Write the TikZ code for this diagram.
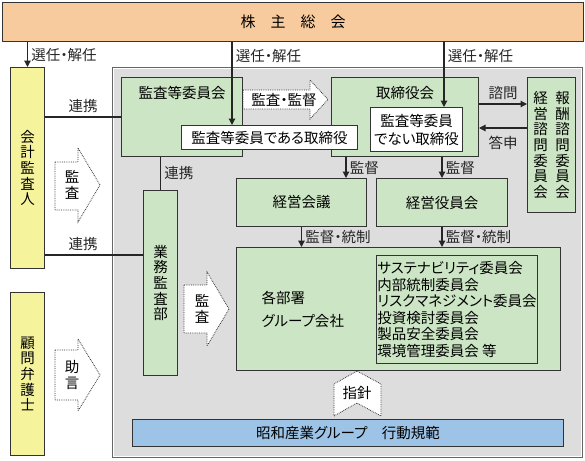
\documentclass[tikz,border=0pt]{standalone}
\usepackage{fontspec}
\setmainfont[RawFeature=+palt]{Noto Sans CJK JP}
\usetikzlibrary{arrows.meta, positioning, calc}
\definecolor{meetingorange}{RGB}{248,203,158}
\definecolor{auditoryellow}{RGB}{246,243,157}
\definecolor{boardgreen}{RGB}{204,229,196}
\definecolor{groupgray}{RGB}{221,221,221}
\definecolor{codeblue}{RGB}{157,195,230}
\newcommand{\tatefont}{\fontsize{14.5}{15.6}\selectfont}

\begin{document}
\begin{tikzpicture}[
        x=1pt, y=-1pt,
        font=\fontsize{14.5}{16}\selectfont,
        box/.style={rectangle, draw=black!80, line width=1pt, anchor=north west, inner sep=0pt, align=center},
        greenbox/.style={box, fill=boardgreen},
        yellowbox/.style={box, fill=auditoryellow, font=\tatefont},
        whitebox/.style={box, fill=white, font=\fontsize{14.5}{18}\selectfont},
        arr/.style={-{Triangle[length=6.5pt, width=6.5pt]}, line width=1.2pt, black!85},
        link/.style={line width=1.2pt, black!85},
        hint/.style={draw=black!80, densely dotted, line width=0.8pt, fill=white}
    ]
    \useasboundingbox (0,0) rectangle (585,460);

    % group frame
    \node[box, draw=black!60, fill=groupgray, minimum width=470pt, minimum height=390pt] (group) at (112,67) {};
    \draw[white, line width=0.8pt] ($(group.north west)+(1.6,1.6)$) rectangle ($(group.south east)+(-1.6,-1.6)$);

    \node[box, fill=meetingorange, minimum width=581pt, minimum height=39pt, font=\fontsize{15}{18}\selectfont] (soukai) at (2,2) {株　主　総　会};

    % outside
    \node[yellowbox, minimum width=34pt, minimum height=201pt] (kaikei) at (10,67) {会\\計\\監\\査\\人};
    \node[yellowbox, minimum width=34pt, minimum height=163pt] (bengo) at (10,292) {顧\\問\\弁\\護\\士};

    % board
    \node[greenbox, minimum width=121pt, minimum height=79pt] (kansa) at (121,77) {};
    \node[greenbox, minimum width=147pt, minimum height=79pt] (torishimari) at (331,77) {};
    \node (kansatitle) at ($(kansa.north)+(0,16)$) {監査等委員会};
    \node (torititle) at ($(torishimari.north)+(0,16)$) {取締役会};
    \node[whitebox, minimum width=176pt, minimum height=24pt] (kdir) at (181,125) {監査等委員である取締役};
    \node[whitebox, minimum width=92pt, minimum height=44pt] (ndir) at (370,107) {監査等委員\\でない取締役};

    \node[greenbox, minimum width=48pt, minimum height=135pt] (shimon) at (527,77) {};
    \node[font=\tatefont, align=center] (houshu) at ($(shimon.center)+(11,0)$) {報\\酬\\諮\\問\\委\\員\\会};
    \node[font=\tatefont, align=center] (keieishimon) at ($(shimon.center)+(-11,0)$) {経\\営\\諮\\問\\委\\員\\会};

    % execution
    \node[greenbox, minimum width=34pt, minimum height=185pt, font=\tatefont] (gyomu) at (143,190) {業\\務\\監\\査\\部};
    \node[greenbox, minimum width=130pt, minimum height=48pt] (keiei) at (236,178) {経営会議};
    \node[greenbox, minimum width=131pt, minimum height=48pt] (yakuin) at (376,178) {経営役員会};
    \node[greenbox, minimum width=324pt, minimum height=123pt] (kakubu) at (236,247) {};
    \node[anchor=west, align=left, font=\fontsize{14.5}{23}\selectfont] (kakubutext) at (258,309) {各部署\\グループ会社};
    \node[greenbox, minimum width=161pt, minimum height=108pt, align=left, font=\fontsize{14.5}{16.6}\selectfont] (iinkai) at (376,255) {サステナビリティ委員会\\内部統制委員会\\リスクマネジメント委員会\\投資検討委員会\\製品安全委員会\\環境管理委員会 等};
    \node[box, fill=codeblue, minimum width=431pt, minimum height=27pt] (kodo) at (132,419) {昭和産業グループ　行動規範};

    % dotted arrows
    \draw[hint] (243,90) -- (310,90) -- (310,80) -- (328,99.5) -- (310,119) -- (310,109) -- (243,109) -- cycle;
    \node (kantokuhint) at (284,99.5) {監査・監督};
    \draw[hint] (55,162) -- (78,162) -- (78,148) -- (100,185) -- (78,222) -- (78,210) -- (55,210) -- cycle;
    \node[font=\tatefont, align=center] (kansahint) at (72,185) {監\\査};
    \draw[hint] (55,350) -- (78,350) -- (78,339) -- (100,375) -- (78,411) -- (78,400) -- (55,400) -- cycle;
    \node[font=\tatefont, align=center] (jogenhint) at (72,375) {助\\言};
    \draw[hint] (184,285) -- (207,285) -- (207,272) -- (229,309) -- (207,346) -- (207,333) -- (184,333) -- cycle;
    \node[font=\tatefont, align=center] (naibuhint) at (202,309) {監\\査};
    \draw[hint] (334,384) -- (357,371) -- (381,384) -- (381,416) -- (357,403) -- (334,416) -- cycle;
    \node (shishinhint) at (357,393) {指針};

    % connectors
    \draw[arr] (soukai.south -| kaikei.north) -- node[right] {選任・解任} (kaikei.north);
    \coordinate (kdirin) at ($(kdir.north west)+(51,0)$);
    \draw[arr] (soukai.south -| kdirin) -- node[pos=0.17, right] {選任・解任} (kdirin);
    \coordinate (ndirin) at ($(ndir.north west)+(74,0)$);
    \draw[arr] (soukai.south -| ndirin) -- node[pos=0.21, right] {選任・解任} (ndirin);

    \coordinate (renkeiA) at ($(kaikei.north east)+(0,50)$);
    \draw[link] (renkeiA) -- node[above] {連携} (renkeiA -| kansa.west);
    \coordinate (renkeiB) at ($(kaikei.north east)+(0,188)$);
    \draw[link] (renkeiB) -- node[pos=0.39, above] {連携} (renkeiB -| gyomu.west);
    \draw[link] (gyomu.north |- kansa.south) -- node[right] {連携} (gyomu.north);

    \coordinate (shimonout) at ($(torishimari.north east)+(0,27)$);
    \draw[arr] (shimonout) -- node[above] {諮問} (shimonout -| shimon.west);
    \coordinate (toshinin) at ($(torishimari.north east)+(0,51)$);
    \draw[arr] (toshinin -| shimon.west) -- node[below=4pt] {答申} (toshinin);

    \coordinate (kantokuA) at ($(keiei.north west)+(110,0)$);
    \draw[arr] (kantokuA |- torishimari.south) -- node[right] {監督} (kantokuA);
    \draw[arr] (yakuin.north |- torishimari.south) -- node[right] {監督} (yakuin.north);
    \draw[arr] (keiei.south) -- node[right] {監督・統制} (keiei.south |- kakubu.north);
    \draw[arr] (yakuin.south) -- node[right] {監督・統制} (yakuin.south |- kakubu.north);
\end{tikzpicture}
\end{document}
